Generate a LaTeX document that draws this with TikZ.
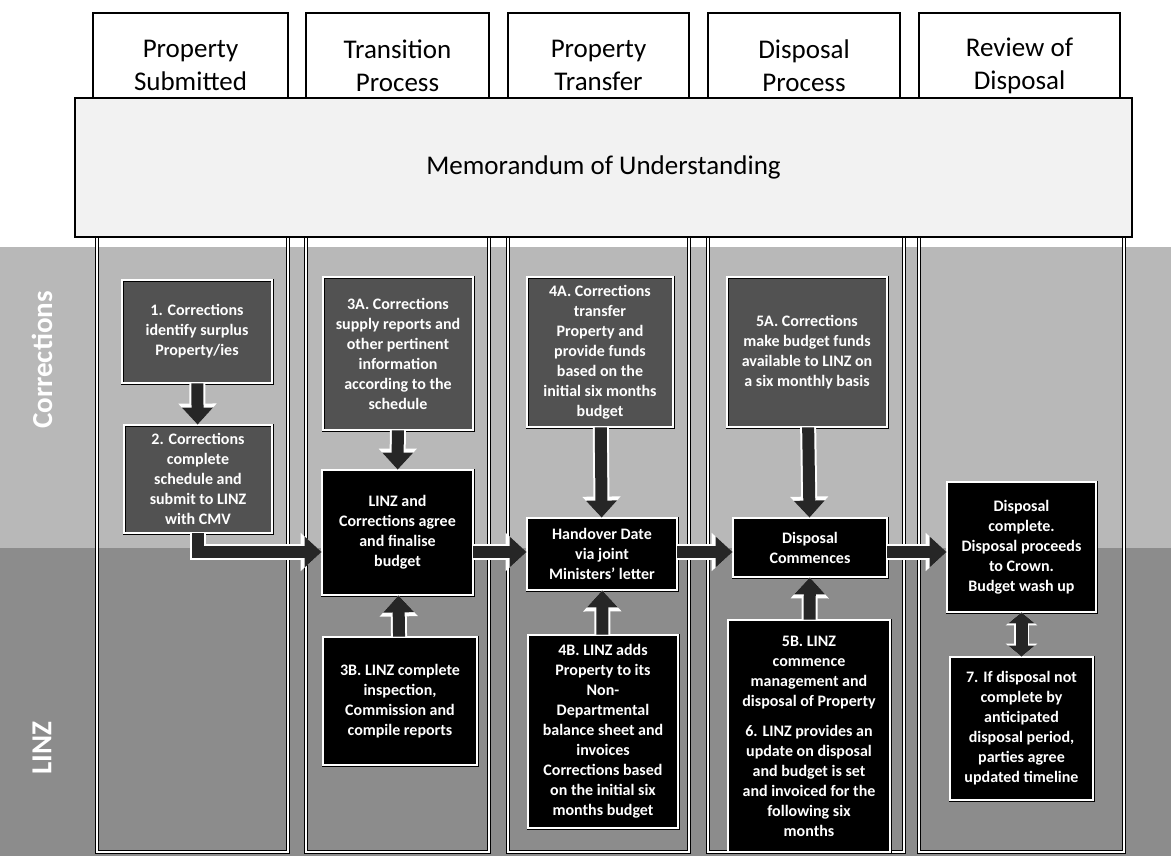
\documentclass[tikz,border=0pt]{standalone}
\usepackage{fontspec}
\setmainfont{Carlito}
\usetikzlibrary{arrows.meta}
\tikzset{every picture/.style={line width=0.7pt}}
\definecolor{corrlane}{gray}{0.72}
\definecolor{linzlane}{gray}{0.55}
\definecolor{corrfill}{gray}{0.32}
\definecolor{moufill}{gray}{0.95}
\tikzset{
  header/.style={draw, line width=1.4pt, fill=white, align=center, inner sep=0pt, font=\fontsize{27}{33}\selectfont},
  column/.style={draw=black, double=white, double distance=2pt, line width=0.9pt},
  stepbox/.style={draw=black, double=white, double distance=1.4pt, line width=0.8pt, text=white, align=center, inner sep=0pt, font=\bfseries\fontsize{16}{20}\selectfont},
  corrbox/.style={stepbox, fill=corrfill},
  linzbox/.style={stepbox, fill=black},
  lanelabel/.style={rotate=90, text=white, font=\bfseries\fontsize{29}{33}\selectfont},
  fatarrow/.style={draw=black!85, line width=12pt, -{Triangle[width=30pt,length=17pt]}, preaction={draw=white, line width=16pt, -{Triangle[width=37pt,length=21pt]}}},
  fatboth/.style={draw=black!85, line width=12pt, {Triangle[width=26pt,length=11pt]}-{Triangle[width=26pt,length=11pt]}, preaction={draw=white, line width=15pt, {Triangle[width=31pt,length=13pt]}-{Triangle[width=31pt,length=13pt]}}}
}

\begin{document}
\begin{tikzpicture}[x=1pt,y=-1pt]
\useasboundingbox (0,0) rectangle (1171,856);

%Shape: lanes
\fill[corrlane] (0,247) rectangle (1171,548);
\fill[linzlane] (0,548) rectangle (1171,856);

%Shape: columns
\draw[column] (97,200) rectangle (288,852);
\draw[column] (306,200) rectangle (489,852);
\draw[column] (508,200) rectangle (689,852);
\draw[column] (708,200) rectangle (904,852);
\draw[column] (919,200) rectangle (1124,852);

% Lane labels
\node[lanelabel] (lcorr) at (42,360) {Corrections};
\node[lanelabel] (llinz) at (42,748) {LINZ};

% Header nodes
\node[header, minimum width=195pt, minimum height=105pt] (hsub) at (190.5,65.5) {Property\\Submitted};
\node[header, minimum width=183pt, minimum height=105pt] (htrans) at (397.5,65.5) {Transition\\Process};
\node[header, minimum width=181pt, minimum height=105pt] (htransfer) at (598.5,65.5) {Property\\Transfer};
\node[header, minimum width=192pt, minimum height=105pt] (hdisp) at (804,65.5) {Disposal\\Process};
\node[header, minimum width=201pt, minimum height=105pt] (hrev) at (1019.5,65.5) {Review of\\Disposal};

%Shape: Memorandum
\node[draw, line width=1.4pt, fill=moufill, minimum width=1057pt, minimum height=139pt, font=\fontsize{27}{33}\selectfont] (mou) at (603.5,167.5) {Memorandum of Understanding};

% Step boxes
\node[corrbox, minimum width=150pt, minimum height=103pt] (b1) at (197,331.5) {1. Corrections\\identify surplus\\Property/ies};
\node[corrbox, minimum width=148pt, minimum height=108pt] (b2) at (198,479) {2. Corrections\\complete\\schedule and\\submit to LINZ\\with CMV};
\node[corrbox, minimum width=150pt, minimum height=153pt] (b3a) at (398,353.5) {3A. Corrections\\supply reports and\\other pertinent\\information\\according to the\\schedule};
\node[linzbox, minimum width=151pt, minimum height=125pt] (agree) at (397.5,532.5) {LINZ and\\Corrections agree\\and finalise\\budget};
\node[linzbox, minimum width=154pt, minimum height=128pt] (b3b) at (400,701) {3B. LINZ complete\\inspection,\\Commission and\\compile reports};
\node[corrbox, minimum width=146pt, minimum height=150pt] (b4a) at (600,352) {4A. Corrections\\transfer\\Property and\\provide funds\\based on the\\initial six months\\budget};
\node[linzbox, minimum width=150pt, minimum height=72pt] (handover) at (602,554) {Handover Date\\via joint\\Ministers' letter};
\node[linzbox, minimum width=150pt, minimum height=193pt] (b4b) at (603,731.5) {4B. LINZ adds\\Property to its\\Non-\\Departmental\\balance sheet and\\invoices\\Corrections based\\on the initial six\\months budget};
\node[corrbox, minimum width=160pt, minimum height=150pt] (b5a) at (807,352) {5A. Corrections\\make budget funds\\available to LINZ on\\a six monthly basis};
\node[linzbox, minimum width=154pt, minimum height=59pt] (commence) at (810,547.5) {Disposal\\Commences};
\node[linzbox, minimum width=162pt, minimum height=232pt] (b5b) at (809,736) {5B. LINZ\\commence\\management and\\disposal of Property\\[10pt]6. LINZ provides an\\update on disposal\\and budget is set\\and invoiced for the\\following six\\months};
\node[linzbox, minimum width=149pt, minimum height=130pt] (complete) at (1021.5,547) {Disposal\\complete.\\Disposal proceeds\\to Crown.\\Budget wash up};
\node[linzbox, minimum width=143pt, minimum height=143pt] (b7) at (1021.5,728.5) {7. If disposal not\\complete by\\anticipated\\disposal period,\\parties agree\\updated timeline};

\coordinate (flow) at (0,552);

% Arrows
\draw[fatarrow] (b1) -- (b2);
\draw[fatarrow] (b2.south) |- (agree.west |- flow);
\draw[fatarrow] (b3a) -- (agree);
\draw[fatarrow] (b3b) -- (agree);
\draw[fatarrow] (agree.east |- flow) -- (handover.west |- flow);
\draw[fatarrow] (b4a) -- (handover);
\draw[fatarrow] (b4b) -- (handover);
\draw[fatarrow] (handover.east |- flow) -- (commence.west |- flow);
\draw[fatarrow] (b5a) -- (commence);
\draw[fatarrow] (b5b) -- (commence);
\draw[fatarrow] (commence.east |- flow) -- (complete.west |- flow);
\draw[fatboth] (complete) -- (b7);

\end{tikzpicture}
\end{document}
